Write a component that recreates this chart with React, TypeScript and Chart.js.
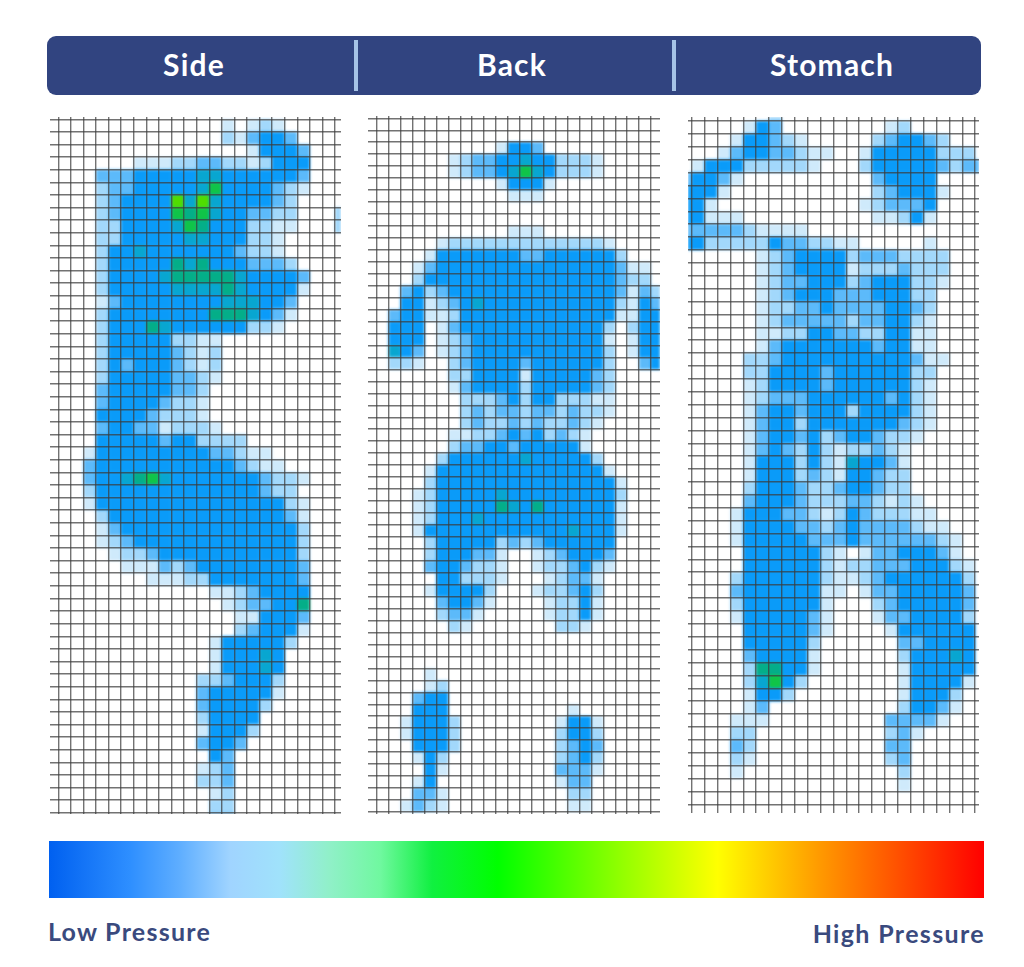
import React, { useEffect, useRef } from "react";
import { Chart, registerables } from "chart.js";

Chart.register(...registerables);

// Each row: "firstColumn:levels". Level 1 (pale) .. 8 (lime), "." = no pressure.
const sideRows = [
  "14:1.121","14:213443","16:14443","7:11122332212444","4:33344444554444443","4:23344444574444321",
  "4:2344448585444432","4:2344447675443322...2","4:2244445764442211...2","4:224444455444221",
  "4:244544444443221","4:2444446564443332","4:24444566666544443","4:24444455556544441",
  "4:1344444444555443","4:2444444446665431","4:244465444444221","4:2444442211","4:2444443212",
  "4:2434443212","4:2444443321","4:344444332","4:344443221","4:444432221","4:3443312221",
  "4:444443442222","3:144444444433211","3:3444444444443211","3:344567544444443221",
  "3:24444444444444322","3:144444444444444421","4:24444444444444431","4:13444444444444442",
  "4:12344444444444442","5:1223444444444442","6:111323444444443","8:1112244444443","13:11234444",
  "14:1233446","15:114443","15:234441","13:1444442","13:144454","13:144454","12:2234442",
  "12:3444441","12:344442","12:24444","12:14442","12:3443","13:43","12:123","12:223","13:12","13:22","13:33",
];

const backRows = [
  "","","11:1443","7:1233445442221","7:1233457542221","11:14441","12:111","","","12:111",
  "6:122222222222221","5:14444444334444442","4:13444444444444444311","4:24444444444444444322",
  "3:3423444444444444443132","3:4412345444444444442143","2:34411244444444444441144",
  "2:444.134444444444442.244","2:444.123444444444441.144","2:543.123444444444442.144",
  "2:221..23444434444442..34","7:22444414444432","7:13444424444432",
  "8:2223424422211","8:2323323323221","8:232232322321","7:112234342321","7:233443444441",
  "6:24444445444442","5:1444444444444441","5:24444444444444441",
  "4:124444454444444442","4:124444465464444441","4:124445444444444441",
  "4:144444444444454441","5:2444442323444444","5:2444331..1234443",
  "5:3443221..1223421","6:442221...12331","5:144442...122342","6:34431....12241",
  "6:2331.....12241","7:21.......221","","","","5:1","5:12","4:344","4:444..........1",
  "3:14442........1441","3:14442........2442","4:4442........2343","4:142.........2342",
  "5:41.........3331","4:14..........133","4:331..........22","3:1321..........11",
];

const stomachRows = [
  "7:2","5:143........12","4:144321.....234432","3:134433211..144444222","1:1444222221...2444443233",
  "0:34431..........34444","0:4441...........234441","0:441...........123334","0:44111..........11241",
  "0:3333321111","0:44222224332211.....1","6:123444423332222","6:123444412223222",
  "6:123344423444221","6:12344433344422","6:12233433334432","6:12333332334421",
  "6:11224433224411","6:13444444434411","5:2234444444444311","5:224444344444422",
  "5:124444344444421","5:123334444443421","5:134434442444421","5:134424444444321",
  "5:13443423443221","5:1343242122321","5:1444242154431","5:1444232144322","5:2444322344322","5:34443222332121",
  "4:1444332124322211","4:14444332343333211","4:144444333433333321","5:44444421.13344431",
  "5:444444212233344421","4:2444444211234444442","4:344444411.133444443",
  "4:24444441...23444443","4:14444431...13344442","5:4444431....1444444",
  "5:444442......334444","5:344441......244454","5:266441......144444",
  "5:25742.......144441","5:1442........14442","5:13..........24431","4:111.........33331",
  "4:22..........231","4:32..........33","4:21..........23","4:1............2","17:1",
];

const levelColors = ["", "#cfeafb", "#a2d8fb", "#5cbafa", "#0a9bf9", "#08a6d0", "#04ae88", "#10c448", "#50dc00"];

const headerLabels = ["Side", "Back", "Stomach"];
const headerCentres = [194, 512, 832];
const dividerLefts = [354, 672];
const scaleStops = [
  ["#0060f0", 0], ["#2e8fff", 8.7], ["#5faeff", 14], ["#a0d4ff", 19.4], ["#a0e2fb", 24.7], ["#90f0c8", 30],
  ["#70f8a0", 35.4], ["#10f040", 41], ["#00ff00", 48], ["#90ff00", 61], ["#ffff00", 71.5], ["#ff9900", 82.5], ["#ff0000", 100],
];

type PanelSpec = {
  rows: string[]; left: number; top: number; width: number; height: number;
  xMin: number; xMax: number; yMin: number; yMax: number;
  xLines: [number, number]; yLines: [number, number];
};

const panels: PanelSpec[] = [
  { rows: sideRows, left: 50, top: 117, width: 291, height: 697, xMin: 0.34, xMax: 23.48, yMin: -0.18, yMax: 55.1, xLines: [1, 23], yLines: [0, 55] },
  { rows: backRows, left: 368, top: 116, width: 292, height: 698, xMin: 0.27, xMax: 24.75, yMin: -0.19, yMax: 58.18, xLines: [1, 24], yLines: [0, 58] },
  { rows: stomachRows, left: 688, top: 117, width: 291, height: 696, xMin: 0.71, xMax: 23.3, yMin: 0.69, yMax: 54.68, xLines: [1, 23], yLines: [1, 54] },
];

function parseRows(rows: string[]) {
  const pts: { x: number; y: number; level: number }[] = [];
  rows.forEach((row, r) => {
    if (!row) return;
    const [start, cells] = row.split(":");
    [...cells].forEach((ch, i) => {
      if (ch !== ".") pts.push({ x: Number(start) + i + 0.5, y: r + 0.5, level: Number(ch) });
    });
  });
  return pts;
}

function range(a: number, b: number) {
  const out: number[] = [];
  for (let v = a; v <= b; v++) out.push(v);
  return out;
}

// Blurs the finished layer of cells as a whole; the grid (z: 1) is drawn on top afterwards.
const softenCells = {
  id: "softenCells",
  afterDatasetsDraw(chart: any) {
    const c = chart.canvas as HTMLCanvasElement;
    const off = document.createElement("canvas");
    off.width = c.width;
    off.height = c.height;
    off.getContext("2d")!.drawImage(c, 0, 0);
    const ctx = chart.ctx as CanvasRenderingContext2D;
    ctx.save();
    ctx.setTransform(1, 0, 0, 1, 0, 0);
    ctx.clearRect(0, 0, c.width, c.height);
    ctx.filter = "blur(1.8px)";
    ctx.drawImage(off, 0, 0);
    ctx.restore();
  },
};

function Panel({ spec }: { spec: PanelSpec }) {
  const ref = useRef<HTMLCanvasElement>(null);
  useEffect(() => {
    const pts = parseRows(spec.rows);
    const axis = (min: number, max: number, lines: [number, number], reverse: boolean) => ({
      type: "linear" as const, min, max, reverse,
      afterBuildTicks: (a: any) => { a.ticks = range(lines[0], lines[1]).map((value) => ({ value })); },
      ticks: { display: false },
      border: { display: false },
      grid: { color: "rgba(60,60,60,0.72)", lineWidth: 1.4, drawTicks: false, z: 1 },
    });
    const chart = new Chart(ref.current!, {
      type: "scatter",
      data: {
        datasets: [{
          data: pts,
          pointStyle: "rect",
          borderWidth: 0,
          backgroundColor: pts.map((p) => levelColors[p.level]),
          pointRadius: (ctx: any) => {
            const s = ctx.chart.scales.x;
            return Math.abs(s.getPixelForValue(1) - s.getPixelForValue(0)) * 0.73;
          },
        }],
      },
      options: {
        responsive: false, animation: false, events: [],
        layout: { padding: 0 },
        plugins: { legend: { display: false }, tooltip: { enabled: false } },
        scales: {
          x: axis(spec.xMin, spec.xMax, spec.xLines, false),
          y: axis(spec.yMin, spec.yMax, spec.yLines, true),
        },
      },
      plugins: [softenCells],
    } as any);
    return () => chart.destroy();
  }, [spec]);
  return (
    <canvas ref={ref} width={spec.width} height={spec.height}
      style={{ position: "absolute", left: spec.left, top: spec.top, width: spec.width, height: spec.height, filter: "blur(0.4px)" }} />
  );
}

export default function App() {
  const font = "Lato, 'Open Sans', sans-serif";
  return (
    <div style={{ position: "absolute", left: 0, top: 0, width: 1024, height: 967, overflow: "hidden", background: "#fff", fontFamily: font }}>
      <div style={{ position: "absolute", left: 47, top: 36, width: 934, height: 59, background: "#314480", borderRadius: 9 }} />
      {dividerLefts.map((x) => (
        <div key={x} style={{ position: "absolute", left: x, top: 40, width: 4, height: 51, background: "#a6c3e6" }} />
      ))}
      {headerLabels.map((t, i) => (
        <div key={t} style={{ position: "absolute", left: headerCentres[i] - 100, width: 200, top: 35, height: 59, lineHeight: "59px", textAlign: "center", color: "#fff", fontWeight: 700, fontSize: 30, letterSpacing: 1.2 }}>{t}</div>
      ))}
      {panels.map((p, i) => <Panel key={i} spec={p} />)}
      <div style={{
        position: "absolute", left: 49, top: 841, width: 935, height: 57,
        background: `linear-gradient(to right, ${scaleStops.map(([c, p]) => `${c} ${p}%`).join(", ")})`,
      }} />
      <div style={{ position: "absolute", left: 48, top: 915, color: "#3a4a7e", fontWeight: 700, fontSize: 25, lineHeight: "32px", letterSpacing: 1.25 }}>Low Pressure</div>
      <div style={{ position: "absolute", right: 39, top: 917, color: "#3a4a7e", fontWeight: 700, fontSize: 25, lineHeight: "32px", letterSpacing: 1.35 }}>High Pressure</div>
    </div>
  );
}
